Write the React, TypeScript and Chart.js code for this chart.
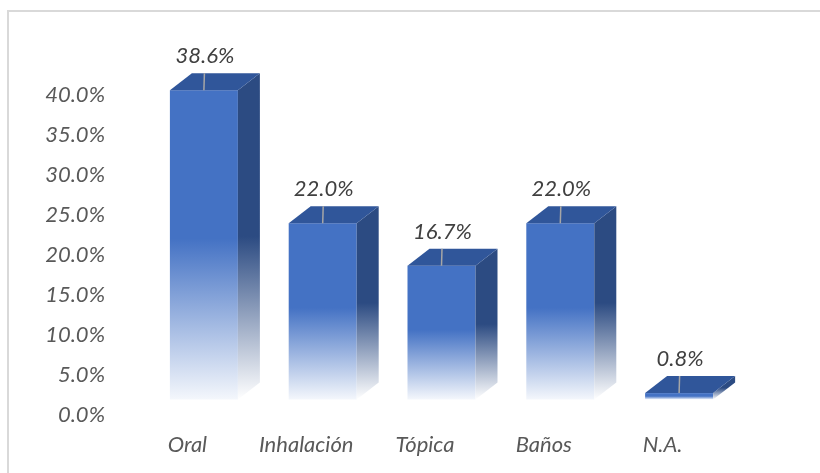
import React, { useEffect, useRef } from 'react';
import { Chart, registerables } from 'chart.js';

Chart.register(...registerables);

const categories: string[] = ['Oral', 'Inhalación', 'Tópica', 'Baños', 'N.A.'];
const values: number[] = [38.6, 22.0, 16.7, 22.0, 0.8];
const yMin = 0;
const yMax = 40;
const yStep = 5;

const FONT = 'Lato, "Open Sans", sans-serif';
const FSIZE = 22;
const LIFT = 15.5; // front face sits above the axis floor (3D perspective)
const SHIFT = 16.5; // front face shifted right of category center
const DX = 22;
const DY = 17;
const HALF_W = 34;

const bars3d = {
  id: 'bars3d',
  beforeDraw(chart: any) {
    const ctx = chart.ctx;
    ctx.save();
    ctx.fillStyle = '#ffffff';
    ctx.fillRect(0, 0, chart.width, chart.height);
    ctx.fillStyle = '#d9d9d9';
    ctx.fillRect(7, 10, 2, chart.height - 10);
    ctx.fillRect(7, 10, chart.width - 7, 2);
    ctx.restore();
  },
  afterDatasetsDraw(chart: any) {
    const ctx = chart.ctx;
    const meta = chart.getDatasetMeta(0);
    const ys = chart.scales.y;
    const data = chart.data.datasets[0].data as number[];
    const base = ys.getPixelForValue(0) - LIFT;
    ctx.save();
    meta.data.forEach((el: any, i: number) => {
      const v = data[i];
      const cx = el.x + SHIFT;
      const top = ys.getPixelForValue(v) - LIFT;
      const l = cx - HALF_W;
      const r = cx + HALF_W;

      // front face
      const gF = ctx.createLinearGradient(0, top, 0, base);
      gF.addColorStop(0, '#4472C4');
      gF.addColorStop(0.48, '#4472C4');
      gF.addColorStop(1, '#F4F7FC');
      ctx.fillStyle = gF;
      ctx.fillRect(l, top, r - l, base - top);

      // side face
      const gS = ctx.createLinearGradient(0, top - DY, 0, base);
      gS.addColorStop(0, '#2C4B82');
      gS.addColorStop(0.5, '#2C4B82');
      gS.addColorStop(1, '#FFFFFF');
      ctx.fillStyle = gS;
      ctx.beginPath();
      ctx.moveTo(r, top);
      ctx.lineTo(r + DX, top - DY);
      ctx.lineTo(r + DX, base - DY);
      ctx.lineTo(r, base);
      ctx.closePath();
      ctx.fill();

      // top face
      ctx.fillStyle = '#30569A';
      ctx.beginPath();
      ctx.moveTo(l, top);
      ctx.lineTo(r, top);
      ctx.lineTo(r + DX, top - DY);
      ctx.lineTo(l + DX, top - DY);
      ctx.closePath();
      ctx.fill();

      // leader line
      ctx.strokeStyle = '#a6a6a6';
      ctx.lineWidth = 1.5;
      ctx.beginPath();
      ctx.moveTo(cx + 0.5, top - DY);
      ctx.lineTo(cx, top);
      ctx.stroke();

      // value label
      ctx.fillStyle = '#404040';
      ctx.font = 'italic ' + FSIZE + 'px ' + FONT;
      ctx.textAlign = 'center';
      ctx.textBaseline = 'middle';
      ctx.fillText(v.toFixed(1) + '%', cx + 1, top - 34);
    });
    ctx.restore();
  },
};

export default function App() {
  const ref = useRef<HTMLCanvasElement | null>(null);
  useEffect(() => {
    if (!ref.current) return;
    const chart = new Chart(ref.current, {
      type: 'bar',
      data: {
        labels: categories,
        datasets: [
          {
            data: values,
            backgroundColor: 'rgba(0,0,0,0)',
            borderWidth: 0,
          },
        ],
      },
      options: {
        responsive: false,
        animation: false,
        layout: { padding: { left: 0, right: 98, top: 94.5, bottom: 0 } },
        plugins: {
          legend: { display: false },
          tooltip: { enabled: false },
        },
        scales: {
          x: {
            grid: { display: false, drawTicks: false },
            border: { display: false },
            ticks: {
              color: '#595959',
              font: { family: FONT, size: FSIZE, style: 'italic' },
              padding: 17,
            },
            afterFit(s: any) {
              s.height = 58;
            },
          },
          y: {
            min: yMin,
            max: yMax,
            grid: { display: false, drawTicks: false },
            border: { display: false },
            ticks: {
              stepSize: yStep,
              color: '#595959',
              font: { family: FONT, size: FSIZE, style: 'italic' },
              padding: 23,
              callback: (v: any) => Number(v).toFixed(1) + '%',
            },
            afterFit(s: any) {
              s.width = 128;
            },
          },
        },
      },
      plugins: [bars3d],
    });
    return () => chart.destroy();
  }, []);
  return (
    <div style={{ position: 'absolute', left: 0, top: 0, width: 820, height: 473 }}>
      <canvas ref={ref} width={820} height={473} style={{ display: 'block' }} />
    </div>
  );
}
